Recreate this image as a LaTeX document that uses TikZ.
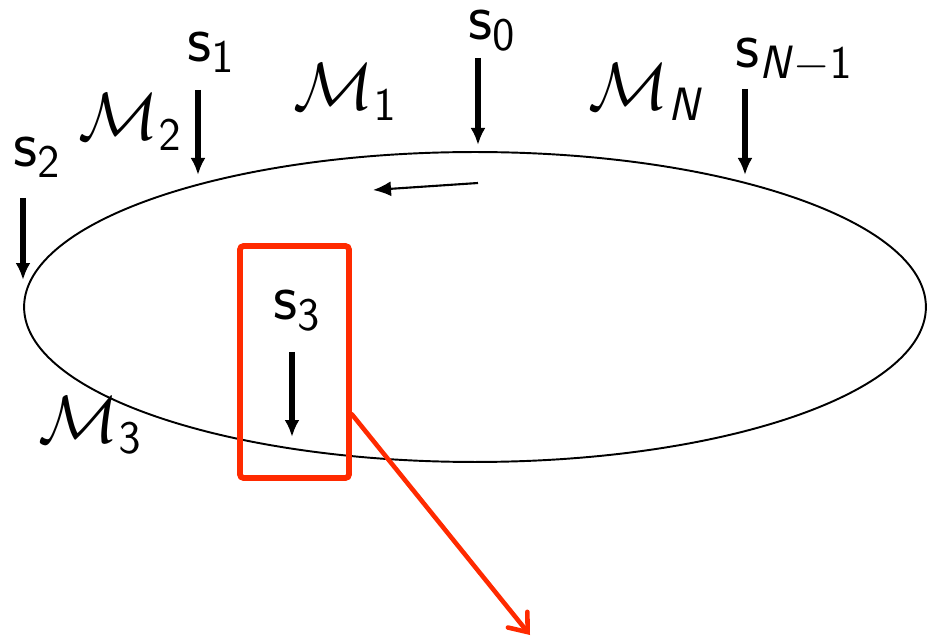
\RequirePackage{fix-cm}
\documentclass[tikz,border=0pt]{standalone}
\usepackage{amsmath}
\usepackage{xcolor}
\usetikzlibrary{positioning, arrows.meta, calc}
\definecolor{zoomred}{HTML}{FF2A00}
\definecolor{ink}{HTML}{000000}

\begin{document}
\begin{tikzpicture}[x=0.02cm, y=-0.02cm,
  font=\fontsize{38}{44}\selectfont,
  lbl/.style={anchor=base west, inner sep=0pt},
  sarr/.style={ink, line width=3.3pt, -{Latex[length=0.34cm,width=0.3cm]}},
  flow/.style={ink, line width=1.2pt, -{Latex[length=0.36cm,width=0.3cm]}},
  zoombox/.style={draw=zoomred, line width=3.3pt, rounded corners=2pt,
                  minimum width=2.18cm, minimum height=4.64cm, inner sep=0pt},
  zarr/.style={zoomred, line width=2.6pt, line cap=round,
               -{Straight Barb[length=0.32cm,width=0.5cm,line cap=round]}}
]
  \useasboundingbox (0,0) rectangle (927,638);

  % the cycle
  \draw[ink, line width=1.1pt] (475,307) ellipse [x radius=9.02cm, y radius=3.1cm];

  % segment labels
  \node[lbl] (m1) at (293,110) {$\mathcal{M}_{\mathsf{1}}$};
  \node[lbl] (m2) at (78,140)  {$\mathcal{M}_{\mathsf{2}}$};
  \node[lbl] (mn) at (588,110) {$\mathcal{M}_{\textsf{\textit{N}}}$};
  \node[lbl] (m3) at (38,443)  {$\mathcal{M}_{\mathsf{3}}$};

  % sample points
  \node[lbl] (s0) at (468,40)  {$\mathsf{s}_{\mathsf{0}}$};
  \node[lbl] (s1) at (187,62)  {$\mathsf{s}_{\mathsf{1}}$};
  \node[lbl] (sn) at (735,68)  {$\mathsf{s}_{\textsf{\textit{N}}-\mathsf{1}}$};
  \node[lbl] (s2) at (13,167)  {$\mathsf{s}_{\mathsf{2}}$};
  \node[lbl] (s3) at (273,320) {$\mathsf{s}_{\mathsf{3}}$};

  \foreach \n/\x/\a/\b in {0/478/58/145, 1/198/90/175, n/745/89/175, 2/23/198/280, 3/292/352/437} {
    \coordinate (t\n) at (\x,\a);
    \coordinate (h\n) at (\x,\b);
    \draw[sarr] (t\n) -- (h\n);
  }

  % direction of travel
  \coordinate (d0) at (478,183);
  \coordinate (d1) at (373,190);
  \draw[flow] (d0) -- (d1);

  % zoomed region
  \node[zoombox] (zoom) at (294.5,362) {};
  \coordinate (zs) at ($(zoom.north east)!0.72!(zoom.south east)$);
  \coordinate (ze) at (530,635);
  \draw[zarr] (zs) -- (ze);
\end{tikzpicture}
\end{document}
